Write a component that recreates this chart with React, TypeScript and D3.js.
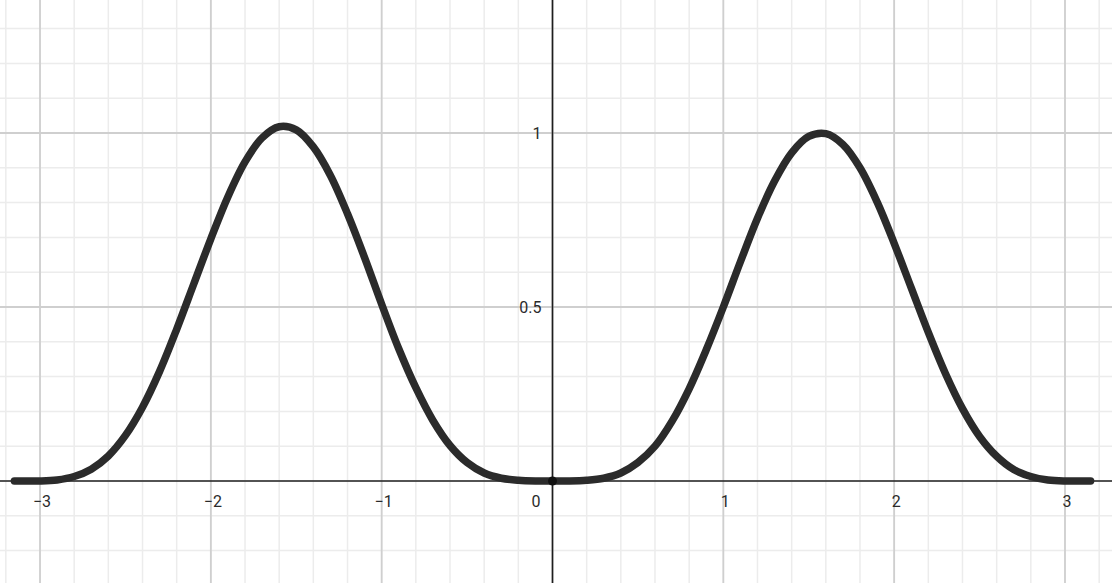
import React from "react"
import * as d3 from "d3"

const W = 1112
const H = 583

// curve points (x, y)
const curveX = [
  -3.15, -3.0, -2.9, -2.8, -2.7, -2.6, -2.5, -2.4, -2.3, -2.2, -2.1, -2.0, -1.9, -1.8, -1.7, -1.6, -1.5,
  -1.4, -1.3, -1.2, -1.1, -1.0, -0.9, -0.8, -0.7, -0.6, -0.5, -0.4, -0.3, -0.2, -0.1, 0,
  0.1, 0.2, 0.3, 0.4, 0.5, 0.6, 0.7, 0.8, 0.9, 1.0, 1.1, 1.2, 1.3, 1.4, 1.5, 1.6, 1.7, 1.8, 1.9,
  2.0, 2.1, 2.2, 2.3, 2.4, 2.5, 2.6, 2.7, 2.8, 2.9, 3.0, 3.15,
]
const curveY = [
  0, 0, 0.003, 0.013, 0.034, 0.072, 0.131, 0.212, 0.315, 0.436, 0.566, 0.696, 0.817, 0.917, 0.986, 1.018, 1.009,
  0.96, 0.878, 0.768, 0.642, 0.508, 0.38, 0.268, 0.174, 0.102, 0.053, 0.023, 0.008, 0.002, 0, 0,
  0, 0.002, 0.008, 0.023, 0.053, 0.1, 0.172, 0.265, 0.377, 0.5, 0.63, 0.755, 0.862, 0.943, 0.99, 0.998, 0.967, 0.9, 0.802,
  0.683, 0.555, 0.427, 0.309, 0.208, 0.128, 0.071, 0.033, 0.013, 0.003, 0, 0,
]

const xTicks = [-3, -2, -1, 1, 2, 3]
const xTickLabels = ["−3", "−2", "−1", "1", "2", "3"]
const yTicks = [0.5, 1]
const yTickLabels = ["0.5", "1"]

export default function App() {
  const x = d3
    .scaleLinear()
    .domain([-552.5 / 170.83, (W - 552.5) / 170.83])
    .range([0, W])
  const y = d3
    .scaleLinear()
    .domain([-(H - 481) / 348, 481 / 348])
    .range([H, 0])

  const minorX = d3.range(-16, 17).map((i) => i * 0.2)
  const minorY = d3.range(-3, 14).map((i) => i * 0.1)
  const majorX = d3.range(-3, 4)
  const majorY = [0.5, 1]

  const pts = curveX.map((v, i) => [v, curveY[i]] as [number, number])
  const line = d3
    .line<[number, number]>()
    .x((d) => x(d[0]))
    .y((d) => y(d[1]))
    .curve(d3.curveCatmullRom.alpha(0.5))

  const font = "Roboto, 'Noto Sans', sans-serif"

  return (
    <svg
      width={W}
      height={H}
      style={{ position: "absolute", left: 0, top: 0, background: "#fff" }}
    >
      {/* minor grid */}
      <g stroke="#ececec" strokeWidth={1.5}>
        {minorX.map((v, i) => (
          <line key={"mx" + i} x1={x(v)} x2={x(v)} y1={0} y2={H} />
        ))}
        {minorY.map((v, i) => (
          <line key={"my" + i} x1={0} x2={W} y1={y(v)} y2={y(v)} />
        ))}
      </g>
      {/* major grid */}
      <g stroke="#cfcfcf" strokeWidth={1.8}>
        {majorX.map((v) => (
          <line key={"Mx" + v} x1={x(v)} x2={x(v)} y1={0} y2={H} />
        ))}
        {majorY.map((v) => (
          <line key={"My" + v} x1={0} x2={W} y1={y(v)} y2={y(v)} />
        ))}
      </g>
      {/* axes */}
      <g stroke="#1e1e1e" strokeWidth={1.6}>
        <line x1={0} x2={W} y1={y(0)} y2={y(0)} />
        <line x1={x(0)} x2={x(0)} y1={0} y2={H} />
      </g>
      {/* labels */}
      <g fontFamily={font} fontSize={16} fill="#2a2a2a">
        {xTicks.map((v, i) => (
          <text key={"xl" + v} x={x(v) + 2} y={507} textAnchor="middle">
            {xTickLabels[i]}
          </text>
        ))}
        {yTicks.map((v, i) => (
          <text key={"yl" + v} x={x(0) - 11} y={y(v) + 6} textAnchor="end">
            {yTickLabels[i]}
          </text>
        ))}
        <text x={x(0) - 12} y={507} textAnchor="end">
          0
        </text>
      </g>
      {/* curve */}
      <path
        d={line(pts) ?? ""}
        fill="none"
        stroke="#2b2b2b"
        strokeWidth={7.5}
        strokeLinecap="round"
        strokeLinejoin="round"
      />
      <circle cx={x(0)} cy={y(0)} r={4.5} fill="#111" />
    </svg>
  )
}
